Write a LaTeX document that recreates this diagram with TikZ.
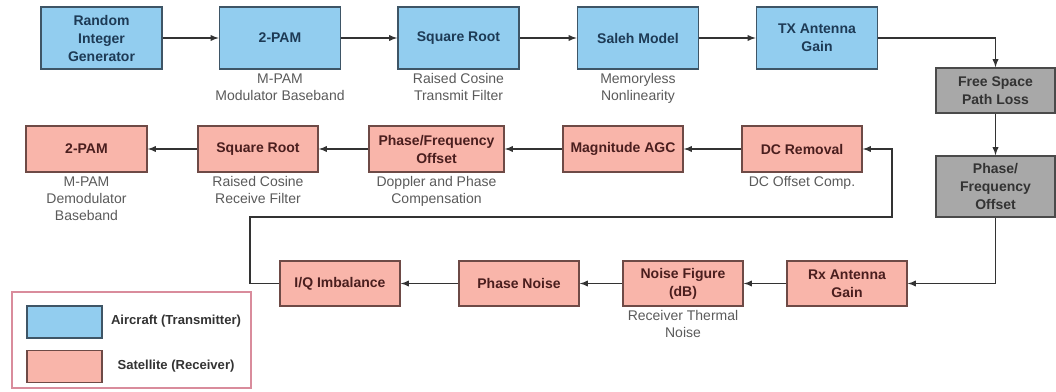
\documentclass[tikz,border=0pt]{standalone}
\usepackage{fontspec}
\setmainfont{Liberation Sans}
\usepackage{xcolor}
\usetikzlibrary{arrows}
\usetikzlibrary{positioning}
\tikzset{>=latex}
\definecolor{txblue}{HTML}{92CDEF}
\definecolor{txedge}{HTML}{3E5566}
\definecolor{txtext}{HTML}{1D3A55}
\definecolor{rxred}{HTML}{F9B5AA}
\definecolor{rxedge}{HTML}{6E4A46}
\definecolor{rxtext}{HTML}{4A1E1E}
\definecolor{chgray}{HTML}{A8A8A8}
\definecolor{chedge}{HTML}{4A4A4A}
\definecolor{legedge}{HTML}{D98C9C}
\definecolor{subtext}{HTML}{5A5A5A}
\definecolor{wire}{HTML}{333333}
\tikzset{
  blk/.style={rectangle,draw,line width=1.2pt,align=center,inner sep=2pt,
    font=\fontsize{10.5}{13.5}\selectfont\bfseries},
  txblk/.style={blk,fill=txblue,draw=txedge,text=txtext,minimum width=90.75pt,minimum height=46.5pt},
  rxblk/.style={blk,fill=rxred,draw=rxedge,text=rxtext,minimum width=90pt,minimum height=34.5pt},
  chblk/.style={blk,fill=chgray,draw=chedge,text=black!80,minimum width=89.25pt,minimum height=33.75pt},
  sub/.style={align=center,text=subtext,inner sep=0pt,font=\fontsize{10.5}{12.75}\selectfont},
  wire/.style={->,draw=wire,line width=1.1pt},
  swatch/.style={rectangle,draw,line width=1.2pt,minimum width=56.25pt,minimum height=24pt},
  keytext/.style={text=black!80,font=\fontsize{9.8}{12}\selectfont\bfseries}
}
\begin{document}
\begin{tikzpicture}[x=0.75pt,y=-0.75pt]
    \useasboundingbox (0,0) rectangle (1056,392);
    % transmitter chain
    \node at (101.5, 38) [txblk] (rig) {Random\\Integer\\Generator};
    \node at (280, 38) [txblk] (pam) {2-PAM};
    \node at (458.5, 38) [txblk] (srrc) {Square Root};
    \node at (638, 38) [txblk] (saleh) {Saleh Model};
    \node at (817, 38) [txblk] (txg) {TX Antenna\\Gain};
    \node [below=2.5pt of pam, sub] (pam_l) {M-PAM\\Modulator Baseband};
    \node [below=2.5pt of srrc, sub] (srrc_l) {Raised Cosine\\Transmit Filter};
    \node [below=2.5pt of saleh, sub] (saleh_l) {Memoryless\\Nonlinearity};
    % channel
    \node at (995.5, 90.5) [chblk] (fspl) {Free Space\\Path Loss};
    \node at (995.5, 186.5) [chblk,minimum height=45.75pt] (chpfo) {Phase/\\Frequency\\Offset};
    % receiver chain, lower row
    \node at (847, 283.5) [rxblk,minimum height=33.75pt] (rxg) {Rx Antenna\\Gain};
    \node at (683, 283.5) [rxblk,minimum height=33.75pt] (nf) {Noise Figure\\(dB)};
    \node at (519, 283.5) [rxblk,minimum height=33.75pt] (pn) {Phase Noise};
    \node at (340, 283.5) [rxblk,minimum height=33.75pt] (iq) {I/Q Imbalance};
    \node [below=2.5pt of nf, sub] (nf_l) {Receiver Thermal\\Noise};
    % receiver chain, middle row
    \node at (802, 149) [rxblk] (dcr) {DC Removal};
    \node at (623, 149) [rxblk] (agc) {Magnitude AGC};
    \node at (436.5, 149) [rxblk,minimum width=101.25pt] (rpfo) {Phase/Frequency\\Offset};
    \node at (258, 149) [rxblk] (rsrrc) {Square Root};
    \node at (86.5, 149) [rxblk,minimum width=90.75pt] (dpam) {2-PAM};
    \node [below=2.5pt of dcr, sub] (dcr_l) {DC Offset Comp.};
    \node [below=2.5pt of rpfo, sub] (rpfo_l) {Doppler and Phase\\Compensation};
    \node [below=2.5pt of rsrrc, sub] (rsrrc_l) {Raised Cosine\\Receive Filter};
    \node [below=2.5pt of dpam, sub] (dpam_l) {M-PAM\\Demodulator\\Baseband};
    \coordinate (loop_w) at (250, 217);
    \coordinate (loop_e) at (892, 217);
    % signal flow
    \draw [wire] (rig) to (pam);
    \draw [wire] (pam) to (srrc);
    \draw [wire] (srrc) to (saleh);
    \draw [wire] (saleh) to (txg);
    \draw [wire] (txg.east) -| (fspl.north);
    \draw [wire] (fspl) to (chpfo);
    \draw [wire] (chpfo.south) |- (rxg.east);
    \draw [wire] (rxg) to (nf);
    \draw [wire] (nf) to (pn);
    \draw [wire] (pn) to (iq);
    \draw [wire] (iq.west) -| (loop_w) -- (loop_e) |- (dcr.east);
    \draw [wire] (dcr) to (agc);
    \draw [wire] (agc) to (rpfo);
    \draw [wire] (rpfo) to (rsrrc);
    \draw [wire] (rsrrc) to (dpam);
    % legend
    \draw [legedge, line width=1.1pt] (12, 292) rectangle (251, 388);
    \node at (64.5, 322) [swatch,fill=txblue,draw=txedge] (key_tx) {};
    \node at (64.5, 366.5) [swatch,fill=rxred,draw=rxedge] (key_rx) {};
    \node at (176, 321) [keytext] (key_tx_l) {Aircraft (Transmitter)};
    \node at (176, 366) [keytext] (key_rx_l) {Satellite (Receiver)};
  \end{tikzpicture}
\end{document}
